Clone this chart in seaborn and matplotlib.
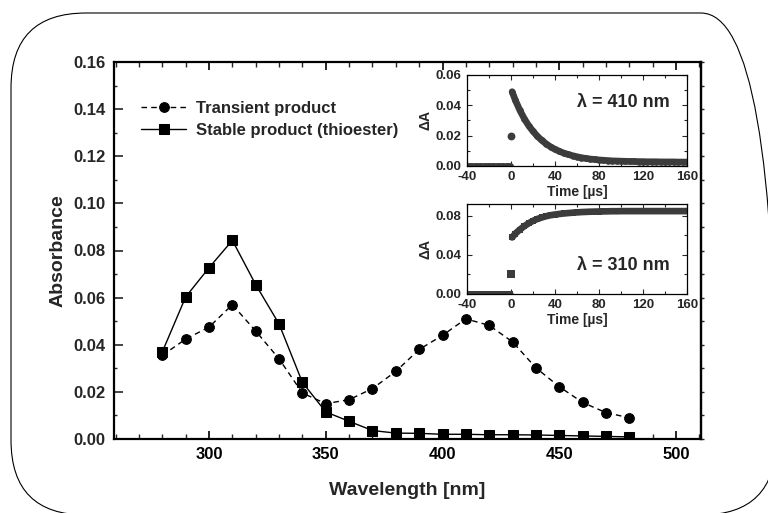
import matplotlib
matplotlib.use("Agg")
import matplotlib.pyplot as plt
import seaborn as sns
from matplotlib.patches import FancyBboxPatch
from matplotlib.ticker import MultipleLocator, FormatStrFormatter

# ---------------- data ----------------
wavelength = [280, 290, 300, 310, 320, 330, 340, 350, 360, 370, 380,
              390, 400, 410, 420, 430, 440, 450, 460, 470, 480]
transient = [0.0355, 0.0424, 0.0475, 0.0570, 0.0458, 0.0340, 0.0195, 0.0150,
             0.0167, 0.0214, 0.0287, 0.0380, 0.0440, 0.0510, 0.0482, 0.0412,
             0.0302, 0.0222, 0.0155, 0.0112, 0.0090]
stable = [0.0370, 0.0603, 0.0727, 0.0843, 0.0655, 0.0488, 0.0240, 0.0115,
          0.0075, 0.0036, 0.0025, 0.0024, 0.0020, 0.0020, 0.0018, 0.0018,
          0.0017, 0.0015, 0.0013, 0.0011, 0.0009]

# inset kinetics
time_pre = [-40, -36, -32, -28, -24, -20, -16, -12, -8, -4, -1]
dA_pre_410 = [0.0, 0.0, 0.0, 0.0, 0.0, 0.0, 0.0, 0.0, 0.0, 0.0, 0.0]
dA_pre_310 = [0.0, 0.0, 0.0, 0.0, 0.0, 0.0, 0.0, 0.0, 0.0, 0.0, 0.0]
time_jump = [0]
dA_jump_410 = [0.020]
dA_jump_310 = [0.021]
time_post = [1, 4, 8, 12, 16, 20, 24, 28, 32, 36, 40, 44, 48, 52, 56, 60,
             64, 68, 72, 76, 80, 84, 88, 92, 96, 100, 104, 108, 112, 116,
             120, 124, 128, 132, 136, 140, 144, 148, 152, 156, 160]
dA_post_410 = [0.0490, 0.0433, 0.0368, 0.0313, 0.0267, 0.0229, 0.0196, 0.0169,
               0.0146, 0.0126, 0.0110, 0.0097, 0.0085, 0.0076, 0.0068, 0.0061,
               0.0055, 0.0050, 0.0046, 0.0043, 0.0040, 0.0038, 0.0036, 0.0034,
               0.0033, 0.0032, 0.0031, 0.0030, 0.0030, 0.0029, 0.0029, 0.0028,
               0.0028, 0.0028, 0.0027, 0.0027, 0.0027, 0.0027, 0.0026, 0.0026,
               0.0026]
dA_post_310 = [0.0580, 0.0620, 0.0660, 0.0695, 0.0725, 0.0750, 0.0770, 0.0785,
               0.0798, 0.0808, 0.0815, 0.0821, 0.0826, 0.0830, 0.0834, 0.0837,
               0.0840, 0.0842, 0.0844, 0.0845, 0.0846, 0.0847, 0.0848, 0.0849,
               0.0849, 0.0850, 0.0850, 0.0850, 0.0850, 0.0850, 0.0850, 0.0850,
               0.0850, 0.0850, 0.0850, 0.0850, 0.0850, 0.0850, 0.0850, 0.0850,
               0.0850]

series_labels = ["Transient product", "Stable product (thioester)"]
inset_labels = ["\u03bb = 410 nm", "\u03bb = 310 nm"]

# ---------------- style ----------------
sns.set_theme(style="ticks")
plt.rcParams['font.family'] = ['Liberation Sans', 'DejaVu Sans']
plt.rcParams['font.weight'] = 'bold'
plt.rcParams['axes.labelweight'] = 'bold'
plt.rcParams['axes.unicode_minus'] = False

fig = plt.figure(figsize=(7.68, 5.13), dpi=100)
fig.patch.set_facecolor('white')

# rounded frame around the whole figure
frame = FancyBboxPatch((0.11, -0.02), 7.65, 5.02,
                       boxstyle="round,pad=0,rounding_size=0.75",
                       transform=fig.dpi_scale_trans, fill=False,
                       edgecolor='black', linewidth=0.8, clip_on=False)
fig.add_artist(frame)

# ---------------- main axes ----------------
ax = fig.add_axes([114/768, 1-439/513, 587/768, 377/513])
sns.lineplot(x=wavelength, y=transient, ax=ax, color='black',
             linestyle=(0, (4, 3)), linewidth=1.0, marker='o', markersize=7,
             markeredgecolor='black', markerfacecolor='black',
             label=series_labels[0])
sns.lineplot(x=wavelength, y=stable, ax=ax, color='black',
             linestyle='-', linewidth=1.0, marker='s', markersize=6.5,
             markeredgecolor='black', markerfacecolor='black',
             label=series_labels[1])

ax.set_xlim(259.3, 510.7)
ax.set_ylim(0, 0.16)
ax.xaxis.set_major_locator(MultipleLocator(50))
ax.xaxis.set_minor_locator(MultipleLocator(10))
ax.yaxis.set_major_locator(MultipleLocator(0.02))
ax.yaxis.set_minor_locator(MultipleLocator(0.01))
ax.yaxis.set_major_formatter(FormatStrFormatter('%.2f'))
ax.tick_params(axis='x', which='major', direction='in', length=6, width=1.2,
               top=True, labelsize=12, pad=6, colors='black')
ax.tick_params(axis='x', which='minor', direction='in', length=3.5, width=1.0,
               top=True)
ax.tick_params(axis='y', which='major', direction='in', length=6.5, width=1.2,
               labelsize=12, pad=6)
ax.tick_params(axis='y', which='minor', direction='in', length=2.5, width=1.0)
for lab in ax.get_xticklabels() + ax.get_yticklabels():
    lab.set_fontweight('bold')
for sp in ax.spines.values():
    sp.set_linewidth(1.6)
    sp.set_color('black')
    sp.set_visible(True)

sec = ax.secondary_yaxis('right')
sec.yaxis.set_major_locator(MultipleLocator(0.01))
sec.tick_params(direction='out', length=2.5, width=1.0, labelright=False)
sec.spines['right'].set_linewidth(1.6)

ax.set_xlabel('Wavelength [nm]', fontsize=14, fontweight='bold', labelpad=14)
ax.set_ylabel('Absorbance', fontsize=14, fontweight='bold', labelpad=5)

leg = ax.legend(loc='upper left', bbox_to_anchor=(0.046, 0.897),
                frameon=False, fontsize=12, handlelength=2.7,
                handletextpad=0.6, labelspacing=0.45, borderaxespad=0,
                borderpad=0)
for t in leg.get_texts():
    t.set_fontweight('bold')

# ---------------- insets ----------------
gray = '#3c3c3c'


def style_inset(a, ylim, ymaj, ymin, label):
    a.set_xlim(-40, 160)
    a.set_ylim(*ylim)
    a.xaxis.set_major_locator(MultipleLocator(40))
    a.xaxis.set_minor_locator(MultipleLocator(20))
    a.yaxis.set_major_locator(MultipleLocator(ymaj))
    a.yaxis.set_minor_locator(MultipleLocator(ymin))
    a.yaxis.set_major_formatter(FormatStrFormatter('%.2f'))
    a.tick_params(which='major', direction='in', length=3.5, width=0.8,
                  top=True, right=True, labelsize=9.5, pad=3.5)
    a.tick_params(axis='y', which='major', pad=4)
    a.tick_params(which='minor', direction='in', length=2, width=0.8,
                  top=True, right=True)
    for lab in a.get_xticklabels() + a.get_yticklabels():
        lab.set_fontweight('bold')
    for sp in a.spines.values():
        sp.set_linewidth(0.9)
        sp.set_color('black')
    a.set_xlabel('Time [\u00b5s]', fontsize=10, fontweight='bold', labelpad=1.5)
    a.set_ylabel('\u0394A', fontsize=10, fontweight='bold', labelpad=2)
    a.set_facecolor('white')


ax1 = fig.add_axes([467/768, 1-166/513, 220/768, 91/513])
sns.lineplot(x=time_pre, y=dA_pre_410, ax=ax1, color=gray, linewidth=4.8,
             marker='o', markersize=4.8, markeredgewidth=0, sort=False)
sns.scatterplot(x=time_jump, y=dA_jump_410, ax=ax1, color=gray, s=32,
                marker='o', linewidth=0)
sns.lineplot(x=time_post, y=dA_post_410, ax=ax1, color=gray, linewidth=4.8,
             marker='o', markersize=4.8, markeredgewidth=0, sort=False)
style_inset(ax1, (0, 0.06), 0.02, 0.01, inset_labels[0])
ax1.text(0.71, 0.70, inset_labels[0], transform=ax1.transAxes, ha='center',
         va='center', fontsize=13, fontweight='bold')

ax2 = fig.add_axes([467/768, 1-294/513, 220/768, 90/513])
sns.lineplot(x=time_pre, y=dA_pre_310, ax=ax2, color=gray, linewidth=4.8,
             marker='s', markersize=4.8, markeredgewidth=0, sort=False)
sns.scatterplot(x=time_jump, y=dA_jump_310, ax=ax2, color=gray, s=30,
                marker='s', linewidth=0)
sns.lineplot(x=time_post, y=dA_post_310, ax=ax2, color=gray, linewidth=4.8,
             marker='s', markersize=4.8, markeredgewidth=0, sort=False)
style_inset(ax2, (0, 0.0923), 0.04, 0.02, inset_labels[1])
ax2.text(0.71, 0.32, inset_labels[1], transform=ax2.transAxes, ha='center',
         va='center', fontsize=13, fontweight='bold')

for a in (ax1, ax2):
    if a.get_legend() is not None:
        a.get_legend().remove()

fig.savefig('out.png', dpi=100)
